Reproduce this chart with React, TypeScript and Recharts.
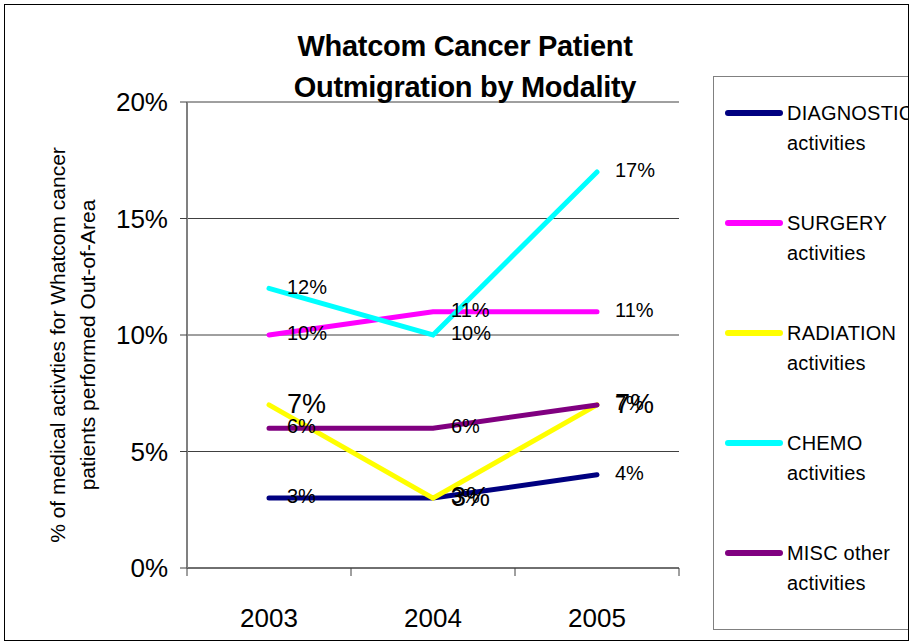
import React from "react";
import { CartesianGrid, LabelList, Line, LineChart, XAxis, YAxis } from "recharts";

const YEARS = ["2003", "2004", "2005"];
const DIAGNOSTIC = [3, 3, 4];
const SURGERY = [10, 11, 11];
const RADIATION = [7, 3, 7];
const CHEMO = [12, 10, 17];
const MISC = [6, 6, 7];
const Y_TICKS = [0, 5, 10, 15, 20];

const SERIES = [
  { key: "diag", label: ["DIAGNOSTIC", "activities"], color: "#000080", values: DIAGNOSTIC, big: false },
  { key: "surg", label: ["SURGERY", "activities"], color: "#ff00ff", values: SURGERY, big: false },
  { key: "rad", label: ["RADIATION", "activities"], color: "#ffff00", values: RADIATION, big: true },
  { key: "chemo", label: ["CHEMO", "activities"], color: "#00ffff", values: CHEMO, big: false },
  { key: "misc", label: ["MISC other", "activities"], color: "#800080", values: MISC, big: false },
];

// x sits in the middle of each year slot so ticks fall between categories
const data = YEARS.map((year, i) => {
  const row: Record<string, number | string> = { x: i + 0.5, year };
  SERIES.forEach((s) => (row[s.key] = s.values[i]));
  return row;
});

const FONT = '"Liberation Sans", Arial, sans-serif';

const XTick = (props: any) => {
  const { x, y, payload } = props;
  const v = payload.value as number;
  if (Number.isInteger(v)) {
    return <line x1={x} x2={x} y1={y} y2={y + 8} stroke="#404040" strokeWidth={1} />;
  }
  return (
    <text x={x} y={y + 52} textAnchor="middle" dominantBaseline="middle" fontSize={26} fill="#000" fontFamily={FONT}>
      {YEARS[Math.floor(v)]}
    </text>
  );
};

const makeLabel = (big: boolean) => (props: any) => {
  const { x, y, value } = props;
  return (
    <text
      x={x + 18}
      y={y + (big ? 1 : 0)}
      dominantBaseline="middle"
      fontSize={big ? 27 : 20}
      fill="#000"
      fontFamily={FONT}
    >
      {`${value}%`}
    </text>
  );
};

export default function App() {
  return (
    <div
      style={{
        position: "absolute",
        left: 0,
        top: 0,
        width: 911,
        height: 644,
        background: "#fff",
        fontFamily: FONT,
        overflow: "hidden",
      }}
    >
      <div style={{ position: "absolute", left: 0, top: 0 }}>
        <LineChart width={911} height={644} data={data} margin={{ top: 102, right: 232, bottom: 0, left: 0 }}>
          <CartesianGrid vertical={false} stroke="#404040" strokeWidth={1} />
          <XAxis
            dataKey="x"
            type="number"
            domain={[0, 3]}
            ticks={[0, 0.5, 1, 1.5, 2, 2.5, 3]}
            interval={0}
            height={76}
            tickSize={0}
            tickMargin={0}
            tickLine={false}
            axisLine={{ stroke: "#404040", strokeWidth: 1 }}
            tick={<XTick />}
          />
          <YAxis
            width={187}
            domain={[0, 20]}
            ticks={Y_TICKS}
            interval={0}
            tickFormatter={(v: number) => `${v}%`}
            tickSize={7}
            tickMargin={12}
            tick={{ fontSize: 26, fill: "#000", fontFamily: FONT }}
            tickLine={{ stroke: "#404040" }}
            axisLine={{ stroke: "#808080", strokeWidth: 2 }}
          />
          {SERIES.map((s) => (
            <Line
              key={s.key}
              type="linear"
              dataKey={s.key}
              stroke={s.color}
              strokeWidth={5}
              strokeLinecap="round"
              dot={false}
              activeDot={false}
              isAnimationActive={false}
            />
          ))}
          {SERIES.map((s) => (
            <Line
              key={`${s.key}-lbl`}
              type="linear"
              dataKey={s.key}
              stroke="none"
              dot={false}
              activeDot={false}
              isAnimationActive={false}
            >
              <LabelList dataKey={s.key} content={makeLabel(s.big)} />
            </Line>
          ))}
        </LineChart>
      </div>

      <div
        style={{
          position: "absolute",
          left: 265,
          top: 26,
          width: 400,
          textAlign: "center",
          fontWeight: "bold",
          fontSize: 29,
          lineHeight: "41px",
          letterSpacing: -0.3,
          color: "#000",
        }}
      >
        Whatcom Cancer Patient
        <br />
        Outmigration by Modality
      </div>

      <div
        style={{
          position: "absolute",
          left: -167,
          top: 315,
          width: 480,
          height: 60,
          textAlign: "center",
          fontSize: 21,
          lineHeight: "30px",
          color: "#000",
          transform: "rotate(-90deg)",
          transformOrigin: "center",
          whiteSpace: "nowrap",
        }}
      >
        % of medical activties for Whatcom cancer
        <br />
        patients performed Out-of-Area
      </div>

      <div
        style={{
          position: "absolute",
          left: 713,
          top: 76,
          width: 196,
          height: 554,
          boxSizing: "border-box",
          border: "1px solid #808080",
          overflow: "hidden",
        }}
      >
        {SERIES.map((s, i) => (
          <div key={s.key} style={{ position: "absolute", left: 0, top: 36 + i * 110 }}>
            <div
              style={{
                position: "absolute",
                left: 11,
                top: -3,
                width: 58,
                height: 6,
                borderRadius: 3,
                background: s.color,
              }}
            />
            <div
              style={{
                position: "absolute",
                left: 73,
                top: -15,
                fontSize: 20,
                lineHeight: "30px",
                whiteSpace: "nowrap",
                color: "#000",
                letterSpacing: 0.2,
              }}
            >
              {s.label[0]}
              <br />
              {s.label[1]}
            </div>
          </div>
        ))}
      </div>

      <div
        style={{
          position: "absolute",
          left: 4,
          top: 4,
          width: 905,
          height: 637,
          boxSizing: "border-box",
          border: "1px solid #000",
          pointerEvents: "none",
        }}
      />
    </div>
  );
}
